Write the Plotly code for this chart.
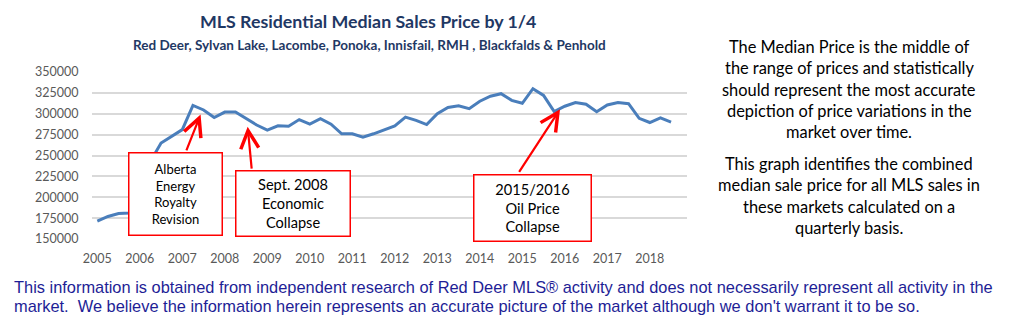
import plotly.graph_objects as go

# Quarterly median residential sale price, 2005 Q1 .. 2018 Q3
median_price = [
    171500, 177000, 180500, 181000,   # 2005
    210000, 243000, 265000, 273000,   # 2006
    281000, 310000, 304500, 295500,   # 2007
    302000, 302000, 294000, 286500,   # 2008
    280500, 285500, 285000, 293000,   # 2009
    287500, 294000, 287500, 276000,   # 2010
    276000, 272000, 276000, 280500,   # 2011
    285500, 296000, 292000, 287000,   # 2012
    300000, 307500, 309500, 306000,   # 2013
    315000, 321000, 324000, 316000,   # 2014
    312500, 330000, 322000, 302500,   # 2015
    309000, 313500, 311500, 302500,   # 2016
    310500, 313500, 312000, 294500,   # 2017
    289500, 295000, 290000,           # 2018
]
years = [str(y) for y in range(2005, 2019)]
quarters_per_year = 4
n_slots = len(years) * quarters_per_year

title = "MLS Residential Median Sales Price by 1/4"
subtitle = "Red Deer, Sylvan Lake, Lacombe, Ponoka, Innisfail, RMH , Blackfalds & Penhold"

side_notes = [
    ["The Median Price is the middle of",
     "the range of prices and statistically",
     "should represent the most accurate",
     "depiction of price variations in the",
     "market over time."],
    ["This graph identifies the combined",
     "median sale price for all MLS sales in",
     "these markets calculated on a",
     "quarterly basis."],
]
disclaimer = [
    "This information is obtained from independent research of Red Deer MLS\u00ae activity and does not necessarily represent all activity in the",
    "market.  We believe the information herein represents an accurate picture of the market although we don't warrant it to be so.",
]

# Callouts: text, box centre (quarter index, price), box size (px), font size,
# arrow tail and arrow tip (quarter index, price)
callouts = [
    dict(text="Alberta<br>Energy<br>Royalty<br>Revision", box=(7.36, 204400), size=(95, 84), font=13,
         tail=(8.33, 254400), tip=(9.72, 299000)),
    dict(text="Sept. 2008<br>Economic<br>Collapse", box=(18.44, 192800), size=(116, 67), font=14.6,
         tail=(14.54, 232500), tip=(14.15, 284500)),
    dict(text="2015/2016<br>Oil Price<br>Collapse", box=(40.93, 187400), size=(119, 68), font=14.6,
         tail=(39.61, 228700), tip=(43.55, 305400)),
]

W, H = 1027, 330
L, R, T, B = 92, 340, 72, 91
FONT = "Lato, 'Open Sans', sans-serif"
NAVY = "#1F3864"


def paper_x(px):
    return (px - L) / (W - L - R)


def paper_y(py):
    return (H - B - py) / (H - T - B)


fig = go.Figure(
    go.Scatter(
        x=list(range(len(median_price))),
        y=median_price,
        mode="lines",
        line=dict(color="#4A7EBB", width=3),
        hoverinfo="skip",
    )
)

annotations = []

# Title block
annotations.append(dict(text=f"<b>{title}</b>", x=paper_x(368), y=paper_y(21), xref="paper", yref="paper",
                        xanchor="center", yanchor="middle", showarrow=False,
                        font=dict(family=FONT, size=17.8, color=NAVY)))
annotations.append(dict(text=f"<b>{subtitle}</b>", x=paper_x(369), y=paper_y(45), xref="paper", yref="paper",
                        xanchor="center", yanchor="middle", showarrow=False,
                        font=dict(family=FONT, size=13.5, color=NAVY)))

# Explanatory notes on the right
line_y = [46.7, 67.9, 89.2, 110.5, 131.8, 163.5, 184.8, 206.1, 227.4]
k = 0
for para in side_notes:
    for line in para:
        annotations.append(dict(text=line, x=paper_x(849), y=paper_y(line_y[k]), xref="paper", yref="paper",
                                xanchor="center", yanchor="middle", showarrow=False,
                                font=dict(family=FONT, size=16.4, color="#000000")))
        k += 1

# Disclaimer along the bottom
for line, py in zip(disclaimer, [287, 306]):
    annotations.append(dict(text=line, x=paper_x(12), y=paper_y(py), xref="paper", yref="paper",
                            xanchor="left", yanchor="middle", showarrow=False,
                            font=dict(family="'Liberation Sans Narrow', 'Arial Narrow', sans-serif",
                                      size=16.4, color="#1E1E96")))

# Callout boxes and their arrows
for c in callouts:
    w, h = c["size"]
    annotations.append(dict(text=c["text"], x=c["box"][0], y=c["box"][1], xref="x", yref="y",
                            showarrow=False, width=w - 3, height=h - 3, borderpad=0, borderwidth=1.5,
                            bordercolor="#FF0000", bgcolor="#FFFFFF", align="center", valign="middle",
                            font=dict(family=FONT, size=c["font"], color="#000000")))
    annotations.append(dict(text="", x=c["tip"][0], y=c["tip"][1], xref="x", yref="y",
                            ax=c["tail"][0], ay=c["tail"][1], axref="x", ayref="y",
                            showarrow=True, arrowhead=5, arrowsize=1.6, arrowwidth=2.2,
                            arrowcolor="#FF0000"))

fig.update_layout(
    width=W, height=H,
    margin=dict(l=L, r=R, t=T, b=B, pad=0),
    paper_bgcolor="#FFFFFF", plot_bgcolor="#FFFFFF",
    showlegend=False,
    annotations=annotations,
    xaxis=dict(
        range=[-0.5, n_slots - 0.5],
        tickvals=list(range(0, n_slots, quarters_per_year)),
        ticktext=years,
        showgrid=False, zeroline=False, showline=False,
        ticks="outside", ticklen=8, tickcolor="rgba(0,0,0,0)",
        tickfont=dict(family=FONT, size=12.5, color="#595959"),
    ),
    yaxis=dict(
        range=[150000, 350000], dtick=25000, tickformat="d",
        showgrid=True, gridcolor="#D9D9D9", gridwidth=1.5,
        zeroline=False, showline=False,
        ticks="outside", ticklen=10, tickcolor="rgba(0,0,0,0)",
        tickfont=dict(family=FONT, size=12.5, color="#595959"),
    ),
)

fig.write_html("out.html")
